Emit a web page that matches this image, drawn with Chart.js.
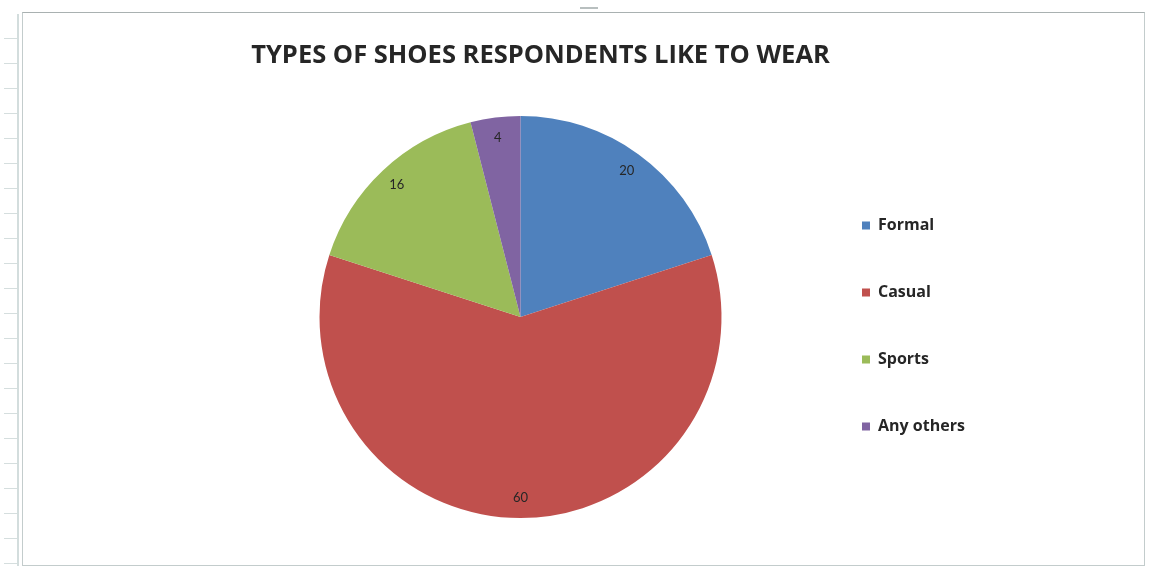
<!DOCTYPE html>
<html>
<head>
<meta charset="utf-8">
<title>Types of shoes respondents like to wear</title>
<script src="https://cdn.jsdelivr.net/npm/chart.js@4.4.1/dist/chart.umd.min.js"></script>
<style>
  html, body { margin: 0; padding: 0; background: #ffffff; }
  #wrap { position: relative; width: 1150px; height: 571px; overflow: hidden; }
  #frame {
    position: absolute; left: 22px; top: 12px; width: 1123px; height: 554px;
    border: 1px solid #c3cccc; border-top-color: #a9b1b1; box-sizing: border-box;
  }
  #ruler {
    position: absolute; left: 4px; top: 14px; width: 15px; height: 552px;
    border-right: 2px solid #d3dddd; box-sizing: border-box;
    background: repeating-linear-gradient(to bottom, transparent 0, transparent 24px, #d5dede 24px, #d5dede 25px);
  }
  #handle { position: absolute; left: 580px; top: 7px; width: 18px; height: 2px; background: #b8bfbf; }
  #chart { position: absolute; left: 0; top: 0; }
</style>
</head>
<body>
<div id="wrap">
  <div id="ruler"></div>
  <div id="frame"></div>
  <div id="handle"></div>
  <canvas id="chart" width="1150" height="571"></canvas>
</div>
<script>
// Survey answers: which type of shoes respondents like to wear
const categories = ['Formal', 'Casual', 'Sports', 'Any others'];
const respondents = [20, 60, 16, 4];
const sliceColors = ['#4f81bd', '#c0504d', '#9bbb59', '#8064a2'];
const chartTitle = 'TYPES OF SHOES RESPONDENTS LIKE TO WEAR';

// Page layout (pixels)
const PLOT_LEFT = 230;      // left edge of the pie's plot area
const PLOT_RIGHT = 811;     // right edge of the pie's plot area, where the legend begins
const TITLE_SHIFT = 20;     // the title sits a little right of the pie's centre line

// Writes each slice's value just inside its outer edge
const sliceValueLabels = {
  id: 'sliceValueLabels',
  afterDatasetsDraw(chart) {
    const { ctx } = chart;
    const meta = chart.getDatasetMeta(0);
    const values = chart.data.datasets[0].data;
    ctx.save();
    ctx.font = '13px Lato, "Open Sans", sans-serif';
    ctx.fillStyle = '#262626';
    ctx.textAlign = 'center';
    ctx.textBaseline = 'middle';
    meta.data.forEach((arc, i) => {
      const p = arc.getProps(['x', 'y', 'startAngle', 'endAngle', 'outerRadius'], true);
      const mid = (p.startAngle + p.endAngle) / 2;
      const r = p.outerRadius * 0.9;
      ctx.fillText(String(values[i]), p.x + Math.cos(mid) * r, p.y + Math.sin(mid) * r);
    });
    ctx.restore();
  }
};

// Moves the title block sideways after the layout has been computed
const titleOffset = {
  id: 'titleOffset',
  afterLayout(chart) {
    const t = chart.titleBlock;
    if (t) { t.left += TITLE_SHIFT; t.right += TITLE_SHIFT; }
  }
};

const chart = new Chart(document.getElementById('chart'), {
  type: 'pie',
  data: {
    labels: categories,
    datasets: [{
      data: respondents,
      backgroundColor: sliceColors,
      borderWidth: 0
    }]
  },
  options: {
    responsive: false,
    animation: false,
    layout: { padding: { left: PLOT_LEFT, right: 200, top: 10, bottom: 53 } },
    plugins: {
      tooltip: { enabled: false },
      title: {
        display: true,
        fullSize: false,
        text: chartTitle,
        color: '#262626',
        font: { family: '"Open Sans", Lato, sans-serif', size: 25.5, weight: 'bold', lineHeight: 1.2 },
        padding: { top: 30.7, bottom: 44.7 }
      },
      legend: {
        position: 'right',
        align: 'center',
        fullSize: false,
        title: { display: true, text: '', font: { size: 18, lineHeight: 1 }, padding: 0 },
        labels: {
          boxWidth: 8,
          boxHeight: 8,
          padding: 51,
          color: '#262626',
          font: { family: '"Open Sans", Lato, sans-serif', size: 16, weight: 'bold' }
        }
      }
    }
  },
  plugins: [sliceValueLabels, titleOffset]
});

// Fix the right padding so the legend starts exactly at PLOT_RIGHT
chart.options.layout.padding.right = chart.width - PLOT_RIGHT - chart.legend.width;
chart.update();
</script>
</body>
</html>
